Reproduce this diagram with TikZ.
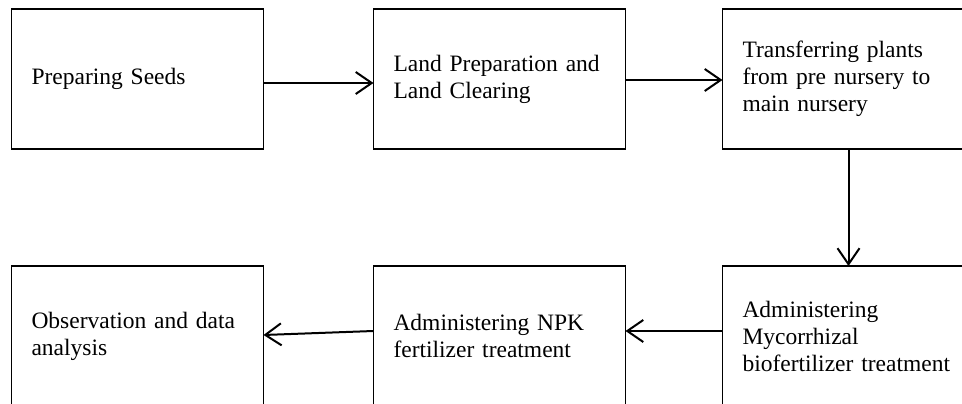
\documentclass[tikz,border=0pt]{standalone}
\usepackage{fontspec}
\setmainfont{Liberation Serif}
\usetikzlibrary{positioning, arrows.meta}

\begin{document}
\begin{tikzpicture}[x=1pt, y=1pt, >={Straight Barb[length=16pt,width=22pt]},
    box/.style={draw, line width=1.2pt, rectangle, minimum width=252pt, minimum height=140pt,
        text width=212pt, inner xsep=20pt, outer sep=0pt, align=left,
        font=\fontsize{23.5}{27}\selectfont},
    flow/.style={line width=2pt}]
    \useasboundingbox (0,0) rectangle (962,-404);

    % Top row: seeds -> land -> transfer
    \node[box] (seeds) at (137.5,-79) {Preparing Seeds};
    \node[box] (land) [right=110pt of seeds] {Land Preparation and\\Land Clearing};
    \node[box] (transfer) [right=97pt of land] {Transferring plants\\from pre nursery to\\main nursery};

    % Bottom row runs right to left
    \node[box] (myco) [below=117pt of transfer] {Administering\\Mycorrhizal\\biofertilizer treatment};
    \node[box] (npk) [left=97pt of myco] {Administering NPK\\fertilizer treatment};
    \node[box] (observe) [left=110pt of npk] {Observation and data\\analysis};

    \path[->, flow]
    ([yshift=-4pt]seeds.east) edge ([yshift=-4pt]land.west)
    ([yshift=-1pt]land.east) edge ([yshift=-1pt]transfer.west)
    (transfer.south) edge (myco.north)
    ([yshift=5pt]myco.west) edge ([yshift=5pt]npk.east)
    ([yshift=5pt]npk.west) edge ([yshift=1pt]observe.east);
\end{tikzpicture}
\end{document}
